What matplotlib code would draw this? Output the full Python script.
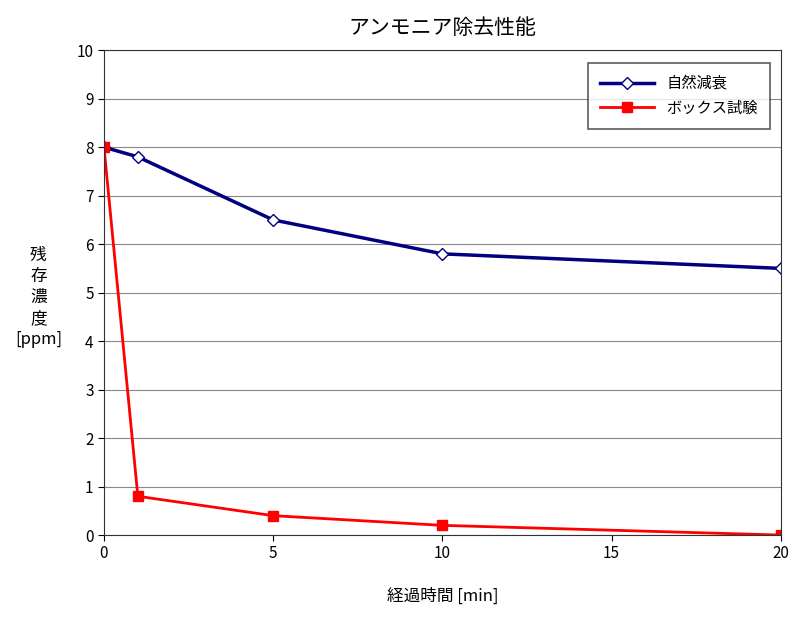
import matplotlib
matplotlib.use("Agg")
import matplotlib.pyplot as plt

plt.rcParams["font.family"] = "Noto Sans CJK JP"

minutes = [0, 1, 5, 10, 20]
natural_decay = [8.0, 7.8, 6.5, 5.8, 5.5]
box_test = [8.0, 0.8, 0.4, 0.2, 0.0]

fig = plt.figure(figsize=(8, 6.2), dpi=100)
ax = fig.add_axes([0.13, 0.137, 0.846, 0.782])

ax.plot(minutes, natural_decay, color="#000080", lw=2.5, marker="D", ms=6.5,
        mfc="white", mec="#000080", mew=1, label="自然減衰")
ax.plot(minutes, box_test, color="#ff0000", lw=2, marker="s", ms=7,
        mfc="#ff0000", mec="#ff0000", label="ボックス試験")

ax.set_xlim(0, 20)
ax.set_ylim(0, 10)
ax.set_xticks([0, 5, 10, 15, 20])
ax.set_yticks(range(0, 11))
ax.grid(axis="y", color="#888888", lw=0.8)
ax.tick_params(labelsize=11, direction="out", length=4)
for s in ax.spines.values():
    s.set_color("#333333")

ax.set_title("アンモニア除去性能", fontsize=15, pad=12)
ax.set_xlabel("経過時間 [min]", fontsize=12, labelpad=18)
fig.text(0.048, 0.52, "残\n存\n濃\n度\n[ppm]", fontsize=12, ha="center", va="center",
         linespacing=1.3)

leg = ax.legend(loc="upper right", fontsize=11, frameon=True, fancybox=False,
                edgecolor="#333333", borderpad=0.8, handlelength=3.5,
                bbox_to_anchor=(0.995, 0.99))
leg.get_frame().set_linewidth(1.2)

fig.savefig("out.png", dpi=100)
